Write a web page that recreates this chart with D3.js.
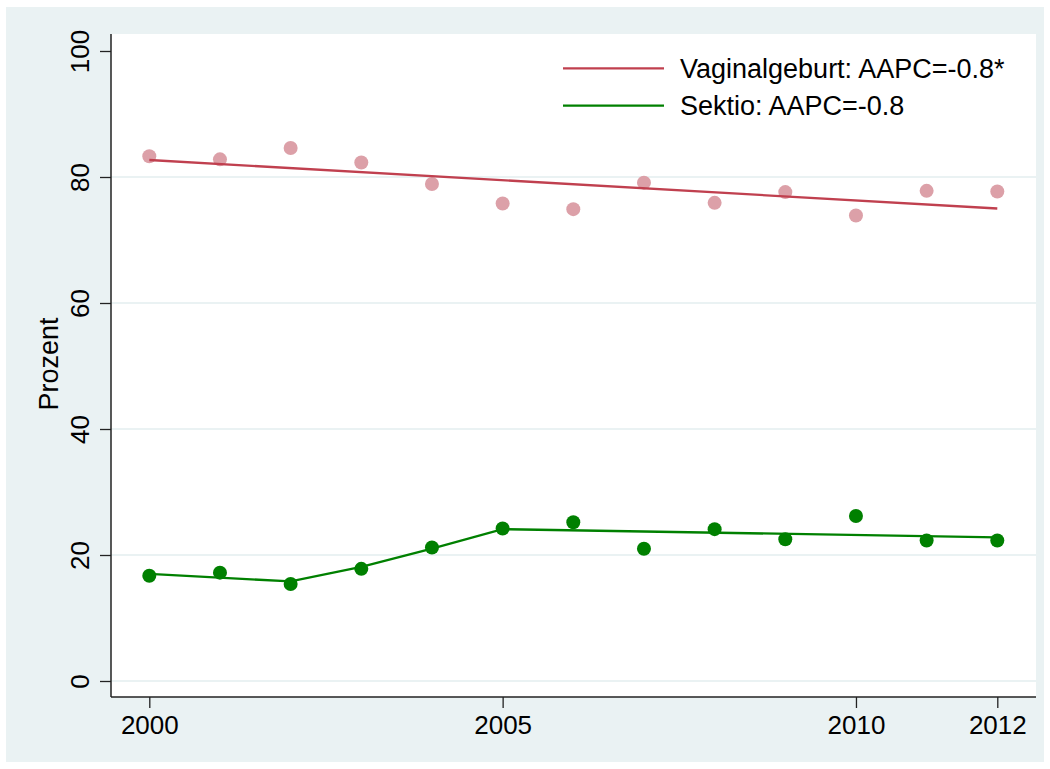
<!DOCTYPE html>
<html>
<head>
<meta charset="utf-8">
<script src="https://cdn.jsdelivr.net/npm/d3@7"></script>
<style>
  body { margin: 0; background: #fff; }
  svg { display: block; font-family: "Liberation Sans", Arial, sans-serif; }
</style>
</head>
<body>
<div id="chart"></div>
<script>
// observed yearly values
var years = [2000, 2001, 2002, 2003, 2004, 2005, 2006, 2007, 2008, 2009, 2010, 2011, 2012];
var vaginal = [83.3, 82.8, 84.6, 82.3, 78.9, 75.8, 74.9, 79.1, 75.9, 77.6, 73.9, 77.8, 77.7];
var sektio = [16.7, 17.2, 15.4, 17.8, 21.2, 24.2, 25.2, 21.0, 24.1, 22.5, 26.2, 22.3, 22.3];

// joinpoint fitted lines (vertices only)
var vaginalFitYears = [2000, 2012];
var vaginalFit = [82.7, 75.0];
var sektioFitYears = [2000, 2002, 2003, 2004, 2005, 2012];
var sektioFit = [17.0, 15.8, 18.1, 21.0, 24.1, 22.8];

var xTicks = [2000, 2005, 2010, 2012];
var yTicks = [0, 20, 40, 60, 80, 100];
var legendLabels = ["Vaginalgeburt: AAPC=-0.8*", "Sektio: AAPC=-0.8"];

var W = 1050, H = 769;
var margins = { top: 34, right: 14, bottom: 72, left: 111 };
var width = W - margins.left - margins.right,
    height = H - margins.top - margins.bottom;

var svg = d3.select("#chart").append("svg").attr("width", W).attr("height", H);

// outer graph region
svg.append("rect").attr("x", 6).attr("y", 7).attr("width", 1038).attr("height", 755).attr("fill", "#eaf2f3");

var g = svg.append("g").attr("transform", "translate(" + margins.left + "," + margins.top + ")");
g.append("rect").attr("width", width).attr("height", height).attr("fill", "#fff");

var x = d3.scaleLinear().domain([2000, 2012]).range([149.3 - margins.left, 997.3 - margins.left]);
var y = d3.scaleLinear().domain([0, 100]).range([681 - margins.top, 51 - margins.top]);

// grid lines
g.selectAll(".grid").data(yTicks.filter(function (d) { return d < 100; }))
  .enter().append("line")
  .attr("x1", 0).attr("x2", width)
  .attr("y1", function (d) { return y(d); }).attr("y2", function (d) { return y(d); })
  .attr("stroke", "#eaf2f3").attr("stroke-width", 2);

// axes
var yAxis = g.append("g")
  .call(d3.axisLeft(y).tickValues(yTicks).tickSize(11).tickPadding(0).tickSizeOuter(0));
yAxis.select(".domain").remove();
yAxis.selectAll(".tick line").attr("stroke", "#222").attr("stroke-width", 1.3);
yAxis.selectAll(".tick text")
  .attr("transform", "translate(-31,0) rotate(-90)")
  .attr("x", 0).attr("dy", "0.36em")
  .attr("text-anchor", "middle")
  .style("font-size", "26px").style("font-family", "Liberation Sans, Arial, sans-serif").attr("fill", "#000");

var xAxis = g.append("g").attr("transform", "translate(0," + height + ")")
  .call(d3.axisBottom(x).tickValues(xTicks).tickFormat(d3.format("d")).tickSize(11).tickPadding(8));
xAxis.select(".domain").remove();
xAxis.selectAll(".tick line").attr("stroke", "#222").attr("stroke-width", 1.3);
xAxis.selectAll(".tick text")
  .style("font-size", "26px").style("font-family", "Liberation Sans, Arial, sans-serif").attr("fill", "#000");

g.append("line").attr("x1", 0).attr("x2", 0).attr("y1", 0).attr("y2", height)
  .attr("stroke", "#222").attr("stroke-width", 1.5);
g.append("line").attr("x1", 0).attr("x2", width).attr("y1", height).attr("y2", height)
  .attr("stroke", "#222").attr("stroke-width", 1.5);

// y title
svg.append("text")
  .attr("transform", "translate(58," + 364 + ") rotate(-90)")
  .attr("text-anchor", "middle")
  .style("font-size", "27px")
  .text("Prozent");

// points
var ptsV = years.map(function (d, i) { return { year: d, v: vaginal[i] }; });
var ptsS = years.map(function (d, i) { return { year: d, v: sektio[i] }; });

g.selectAll(".pv").data(ptsV).enter().append("circle")
  .attr("cx", function (d) { return x(d.year); })
  .attr("cy", function (d) { return y(d.v); })
  .attr("r", 7).attr("fill", "#dca0a8");

var line = d3.line().x(function (d) { return x(d.year); }).y(function (d) { return y(d.v); });

var fitV = vaginalFitYears.map(function (d, i) { return { year: d, v: vaginalFit[i] }; });
var fitS = sektioFitYears.map(function (d, i) { return { year: d, v: sektioFit[i] }; });

g.append("path").datum(fitV).attr("fill", "none").attr("stroke", "#c0404f").attr("stroke-width", 2.3).attr("d", line);

g.selectAll(".ps").data(ptsS).enter().append("circle")
  .attr("cx", function (d) { return x(d.year); })
  .attr("cy", function (d) { return y(d.v); })
  .attr("r", 7).attr("fill", "#008000");

g.append("path").datum(fitS).attr("fill", "none").attr("stroke", "#008000").attr("stroke-width", 2.3).attr("d", line);

// legend
var legColors = ["#c0404f", "#008000"];
var leg = svg.append("g");
legendLabels.forEach(function (t, i) {
  var ly = 68.3 + i * 37.4;
  leg.append("line").attr("x1", 563).attr("x2", 664).attr("y1", ly).attr("y2", ly)
    .attr("stroke", legColors[i]).attr("stroke-width", 2.3);
  leg.append("text").attr("x", 680).attr("y", ly).attr("dy", "0.36em")
    .style("font-size", "27px").text(t);
});
</script>
</body>
</html>
